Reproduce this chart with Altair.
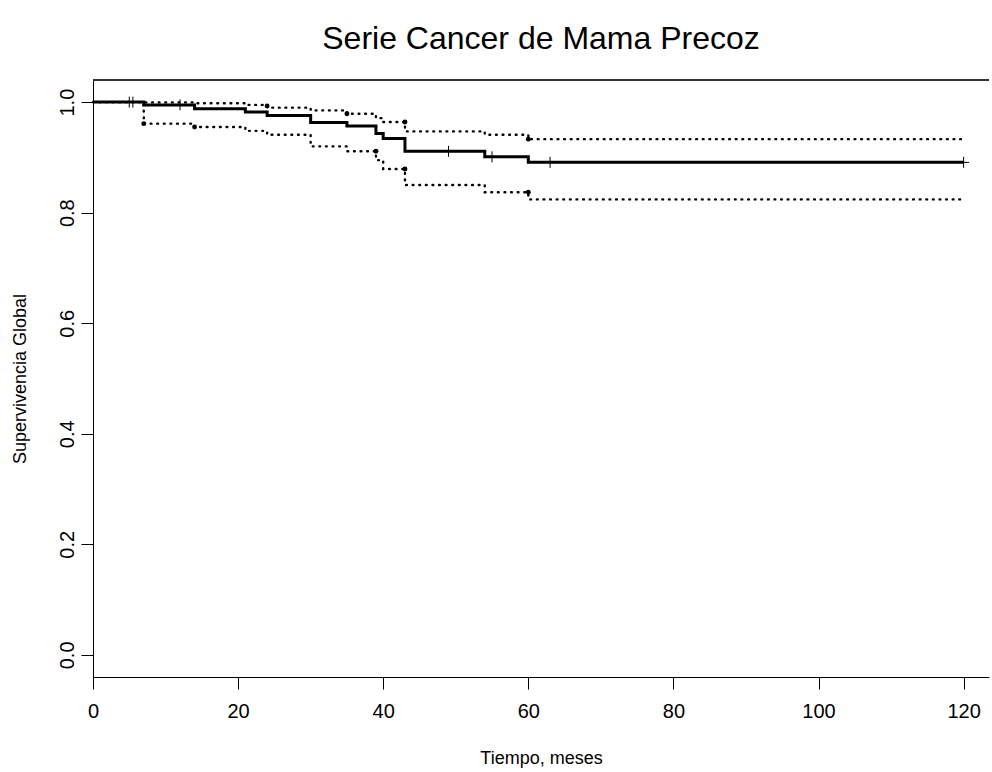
import altair as alt
import pandas as pd

# Kaplan-Meier estimate (step changes) and 95% confidence limits
times = [0, 7, 14, 21, 24, 30, 35, 39, 40, 43, 54, 60, 120]
surv = [1.0, 0.995, 0.988, 0.982, 0.976, 0.963, 0.957, 0.943, 0.934, 0.911, 0.901, 0.891, 0.891]
upper = [1.0, 0.9995, 0.998, 0.995, 0.990, 0.985, 0.979, 0.971, 0.964, 0.947, 0.941, 0.933, 0.933]
lower = [1.0, 0.961, 0.955, 0.948, 0.941, 0.920, 0.911, 0.895, 0.879, 0.850, 0.837, 0.824, 0.824]

# censoring marks on the survival curve
cens_t = [5, 5.5, 12, 49, 55, 63, 120]
cens_v = [1.0, 1.0, 0.995, 0.911, 0.901, 0.891, 0.891]

# dots on the confidence limits
up_dot_t = [24, 35, 43, 60]
up_dot_v = [0.993, 0.979, 0.964, 0.933]
lo_dot_t = [7, 14, 39, 43, 60]
lo_dot_v = [0.961, 0.955, 0.911, 0.879, 0.837]

x_ticks = [0, 20, 40, 60, 80, 100, 120]
y_ticks = [0.0, 0.2, 0.4, 0.6, 0.8, 1.0]

XMAX = 123.5
W, H = 896, 597
FONT = "Liberation Sans"

df_s = pd.DataFrame({"t": times, "s": surv})
df_u = pd.DataFrame({"t": times, "s": upper})
df_l = pd.DataFrame({"t": times, "s": lower})
df_c = pd.DataFrame({"t": cens_t, "s": cens_v})
df_d = pd.DataFrame({"t": up_dot_t + lo_dot_t, "s": up_dot_v + lo_dot_v})

x_scale = alt.Scale(domain=[0, XMAX], nice=False, zero=False)
y_scale = alt.Scale(domain=[-0.04, 1.04], nice=False, zero=False)

x_axis = alt.Axis(values=x_ticks, format="d", title="Tiempo, meses",
                  labelPadding=12, titlePadding=28)
y_axis = alt.Axis(values=y_ticks, format=".1f", title="Supervivencia Global",
                  labelAngle=270, labelAlign="center", labelBaseline="bottom",
                  labelPadding=4, titlePadding=28)

X = alt.X("t:Q", scale=x_scale, axis=x_axis)
Y = alt.Y("s:Q", scale=y_scale, axis=y_axis)

dotted = dict(interpolate="step-after", color="black", strokeWidth=2.4,
              strokeDash=[0.8, 5.8], strokeCap="round")

solid = alt.Chart(df_s).mark_line(interpolate="step-after", color="black",
                                   strokeWidth=3).encode(x=X, y=Y)
up_line = alt.Chart(df_u).mark_line(**dotted).encode(x=X, y=Y)
lo_line = alt.Chart(df_l).mark_line(**dotted).encode(x=X, y=Y)
cens = alt.Chart(df_c).mark_point(shape="M0,-1V1M-1,0H1", size=121, filled=False,
                                   stroke="black", strokeWidth=1, opacity=1).encode(x=X, y=Y)
dots = alt.Chart(df_d).mark_circle(size=24, color="black", opacity=1).encode(x=X, y=Y)
top = alt.Chart(df_s).mark_rule(color="#333333", strokeWidth=1).encode(
    x=alt.X(datum=0), x2=alt.X2(datum=XMAX), y=alt.Y(datum=1.04))

chart = alt.layer(up_line, lo_line, solid, cens, dots, top).properties(
    width=W, height=H,
    title=alt.TitleParams("Serie Cancer de Mama Precoz", fontSize=32, font=FONT,
                          fontWeight="normal", color="black", anchor="middle", offset=24),
    autosize=alt.AutoSizeParams(type="none"),
    padding={"left": 93, "top": 80, "right": 3, "bottom": 95},
    background="white",
).configure_view(stroke=None).configure_axis(
    grid=False, domainColor="black", domainWidth=1, tickColor="black", tickSize=12,
    tickWidth=1, labelColor="black", labelFont=FONT, labelFontSize=20,
    titleColor="black", titleFont=FONT, titleFontSize=18, titleFontWeight="normal",
    labelOverlap=False, labelFlush=False,
)

chart.save("out.html", embed_options={"renderer": "svg", "actions": False})
